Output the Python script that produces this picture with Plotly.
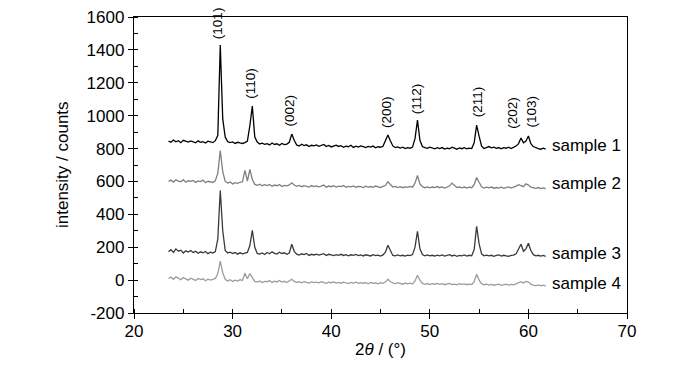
import plotly.graph_objects as go

two_theta = [
    23.5, 23.75, 24.0, 24.25, 24.5, 24.75, 25.0, 25.25, 25.5, 25.75,
    26.0, 26.25, 26.5, 26.75, 27.0, 27.25, 27.5, 27.75, 28.0, 28.25,
    28.5, 28.75, 29.0, 29.25, 29.5, 29.75, 30.0, 30.25, 30.5, 30.75,
    31.0, 31.25, 31.5, 31.75, 32.0, 32.25, 32.5, 32.75, 33.0, 33.25,
    33.5, 33.75, 34.0, 34.25, 34.5, 34.75, 35.0, 35.25, 35.5, 35.75,
    36.0, 36.25, 36.5, 36.75, 37.0, 37.25, 37.5, 37.75, 38.0, 38.25,
    38.5, 38.75, 39.0, 39.25, 39.5, 39.75, 40.0, 40.25, 40.5, 40.75,
    41.0, 41.25, 41.5, 41.75, 42.0, 42.25, 42.5, 42.75, 43.0, 43.25,
    43.5, 43.75, 44.0, 44.25, 44.5, 44.75, 45.0, 45.25, 45.5, 45.75,
    46.0, 46.25, 46.5, 46.75, 47.0, 47.25, 47.5, 47.75, 48.0, 48.25,
    48.5, 48.75, 49.0, 49.25, 49.5, 49.75, 50.0, 50.25, 50.5, 50.75,
    51.0, 51.25, 51.5, 51.75, 52.0, 52.25, 52.5, 52.75, 53.0, 53.25,
    53.5, 53.75, 54.0, 54.25, 54.5, 54.75, 55.0, 55.25, 55.5, 55.75,
    56.0, 56.25, 56.5, 56.75, 57.0, 57.25, 57.5, 57.75, 58.0, 58.25,
    58.5, 58.75, 59.0, 59.25, 59.5, 59.75, 60.0, 60.25, 60.5, 60.75,
    61.0, 61.25, 61.5, 61.75,
]

sample1 = [
    845, 838, 852, 841, 848, 836, 850, 843, 839, 846,
    840, 835, 847, 838, 842, 834, 845, 839, 836, 848,
    880, 1430, 980, 870, 842, 836, 840, 831, 838, 834,
    831, 836, 845, 940, 1058, 870, 840, 828, 833, 826,
    830, 822, 834, 825, 829, 820, 831, 824, 827, 838,
    888, 850, 822, 815, 826, 818, 823, 812, 820, 816,
    822, 814, 818, 825, 812, 819, 810, 816, 821, 813,
    818, 808, 815, 811, 820, 807, 814, 809, 816, 812,
    806, 813, 809, 815, 805, 811, 808, 814, 845, 882,
    848, 816, 806, 810, 803, 808, 800, 806, 802, 809,
    860, 973, 850, 812, 806, 801, 808, 803, 798, 805,
    800, 806, 797, 803, 799, 808, 801, 796, 804, 799,
    805, 798, 803, 800, 835, 943, 875, 815, 800, 806,
    812, 804, 809, 801, 806, 799, 805, 802, 808, 800,
    806, 815, 830, 864, 835, 845, 876, 830, 812, 804,
    800, 796, 802, 797,
]

sample2 = [
    600, 608, 596, 610, 602, 598, 611, 595, 604, 600,
    606, 594, 603, 599, 608, 592, 601, 597, 594, 605,
    650, 788, 660, 600, 590, 596, 585, 593, 588, 595,
    598, 667, 602, 673, 612, 582, 576, 583, 574, 580,
    575, 582, 571, 578, 574, 581, 569, 576, 573, 579,
    592, 578, 570, 576, 568, 574, 571, 566, 575, 569,
    573, 567, 571, 578, 565, 572, 568, 574, 566, 571,
    569, 575, 564, 570, 567, 573, 565, 570, 568, 563,
    571, 566, 569, 564, 572, 567, 563, 570, 575, 598,
    580, 566, 570, 563, 568, 562, 567, 564, 570, 565,
    590, 636, 585, 568, 562, 567, 561, 566, 563, 569,
    562, 567, 560, 565, 572, 590, 575, 563, 566, 561,
    566, 560, 565, 562, 580, 624, 595, 568, 560, 565,
    561, 566, 559, 563, 560, 565, 558, 562, 567, 560,
    564, 572, 580, 575, 568, 585, 578, 566, 562, 558,
    563, 557, 561, 556,
]

sample3 = [
    172, 185, 168, 190, 176, 182, 165, 178, 171, 180,
    168, 175, 163, 172, 166, 174, 161, 170, 165, 173,
    250, 545, 300, 180, 165, 170, 162, 168, 158, 166,
    160, 163, 168, 210, 303, 200, 162, 158, 165, 156,
    168, 160, 172, 163, 158, 170, 162, 166, 157, 165,
    218, 175, 158, 152, 160, 155, 162, 150, 157, 153,
    158, 152, 156, 161, 150, 157, 153, 149, 155, 151,
    157, 150, 155, 148, 154, 151, 156, 149, 153, 147,
    154, 150, 147, 155, 149, 152, 146, 153, 170, 212,
    175, 150, 147, 153, 148, 151, 146, 152, 149, 155,
    200, 297, 190, 155, 148, 153, 147, 151, 146, 152,
    148, 153, 146, 150, 155, 147, 152, 145, 150, 148,
    153, 146, 151, 148, 185, 327, 220, 160, 148, 152,
    147, 151, 145, 150, 153, 146, 151, 148, 145, 150,
    152, 160, 190, 218, 175, 190, 224, 180, 155, 148,
    151, 146, 150, 145,
]

sample4 = [
    10, 18, 5, 20, 12, 2, 15, 8, 0, 12,
    5, -2, 10, 3, 8, -4, 6, 0, 4, 10,
    40, 115, 45, 5, -5, 2, -8, 0, -6, 3,
    -2, 42, 8, 40, 15, -8, -12, -5, -15, -8,
    -10, -3, -14, -6, -11, -2, -12, -7, -15, -5,
    5, -8, -14, -10, -16, -9, -13, -18, -11, -15,
    -12, -17, -10, -15, -20, -13, -16, -11, -18, -14,
    -19, -12, -16, -21, -14, -18, -13, -20, -15, -19,
    -16, -22, -14, -19, -17, -23, -15, -20, -12, 5,
    -10, -18, -22, -16, -21, -25, -18, -23, -19, -24,
    -5, 30, 0, -20, -26, -21, -27, -22, -25, -20,
    -26, -22, -28, -23, -20, -27, -24, -29, -22, -26,
    -23, -28, -24, -27, -10, 36, 0, -22, -28, -25,
    -30, -26, -31, -27, -24, -32, -28, -25, -30, -26,
    -29, -22, -15, -10, -18, -8, -12, -24, -30, -33,
    -29, -35, -31, -36,
]

series_names = ["sample 1", "sample 2", "sample 3", "sample 4"]
series_values = [sample1, sample2, sample3, sample4]
series_colors = ["#000000", "#7f7f7f", "#3a3a3a", "#9c9c9c"]
label_x = [62.2, 62.2, 62.2, 62.2]
label_y = [818, 588, 164, -18]

peak_labels = ["(101)", "(110)", "(002)", "(200)", "(112)", "(211)", "(202)", "(103)"]
peak_x = [28.55, 31.8, 35.8, 45.6, 48.6, 54.8, 58.45, 60.35]
peak_label_y = [1455, 1090, 921, 915, 994, 976, 909, 915]

y_tick_vals = [-200, 0, 200, 400, 600, 800, 1000, 1200, 1400, 1600]
y_tick_text = ["-200", "0", "200", "400", "600", "800", "1000", "1200", "1400", "1600"]
x_tick_vals = [20, 30, 40, 50, 60, 70]
x_tick_text = ["20", "30", "40", "50", "60", "70"]

FONT = "Liberation Sans, Arial, sans-serif"

fig = go.Figure()
for name, vals, col in zip(series_names, series_values, series_colors):
    fig.add_trace(go.Scatter(x=two_theta, y=vals, mode="lines", name=name,
                             line=dict(color=col, width=1.3), showlegend=False))

for name, lx, ly in zip(series_names, label_x, label_y):
    fig.add_annotation(x=lx, y=ly, text=name, showarrow=False, xanchor="left",
                       yanchor="middle", font=dict(size=17, color="#000000", family=FONT))

for t, px, py in zip(peak_labels, peak_x, peak_label_y):
    fig.add_annotation(x=px, y=py, text=t, showarrow=False, textangle=-90,
                       xanchor="center", yanchor="bottom",
                       font=dict(size=13.5, color="#000000", family=FONT))

# axis titles as paper annotations for exact placement
fig.add_annotation(xref="paper", yref="paper", x=0.5, y=-0.122, text="2<i>θ</i> / (°)",
                   showarrow=False, xanchor="center", yanchor="middle",
                   font=dict(size=17, color="#000000", family=FONT))
fig.add_annotation(xref="paper", yref="paper", x=-0.146, y=0.5, text="intensity / counts",
                   showarrow=False, xanchor="center", yanchor="middle", textangle=-90,
                   font=dict(size=17, color="#000000", family=FONT))

axis_common = dict(showline=True, linecolor="#000000", linewidth=1.3, mirror=True,
                   showgrid=False, zeroline=False, ticks="outside", ticklen=5,
                   tickwidth=1.2, tickcolor="#000000", automargin=False,
                   ticklabeloverflow="allow",
                   tickfont=dict(size=17, color="#000000", family=FONT))

fig.update_xaxes(range=[20, 70], tickmode="array", tickvals=x_tick_vals, ticktext=x_tick_text,
                 minor=dict(dtick=5, tick0=20, ticks="inside", ticklen=4,
                            tickwidth=1.2, tickcolor="#000000"),
                 ticklabelstandoff=-3,
                 **axis_common)
fig.update_yaxes(range=[-200, 1600], tickmode="array", tickvals=y_tick_vals, ticktext=y_tick_text,
                 minor=dict(dtick=100, tick0=-200, ticks="inside", ticklen=4,
                            tickwidth=1.2, tickcolor="#000000"),
                 **axis_common)

fig.update_layout(width=692, height=357, margin=dict(l=126, r=73, t=9, b=52),
                  plot_bgcolor="#ffffff", paper_bgcolor="#ffffff")

fig.write_html("out.html")
